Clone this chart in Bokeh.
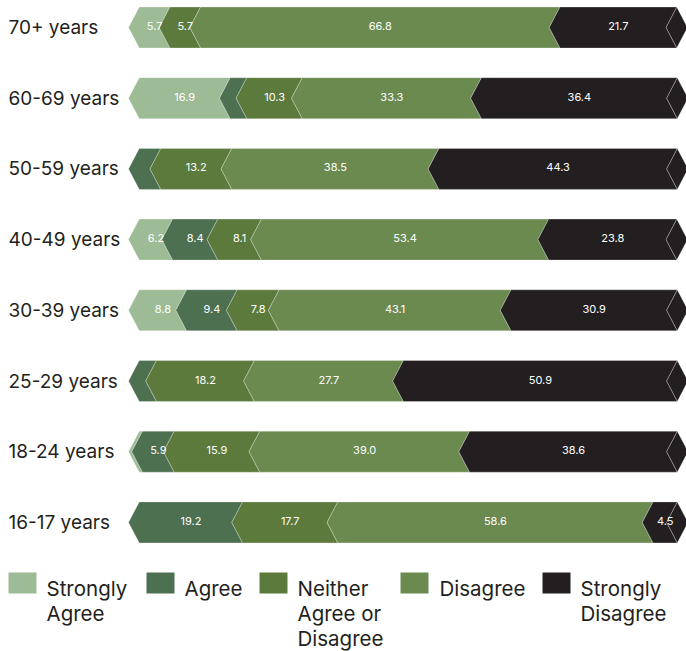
from bokeh.plotting import figure
from bokeh.models import Range1d, ColumnDataSource
from bokeh.embed import file_html
from bokeh.resources import INLINE
from bokeh.core.properties import value

# ---- data ----
categories = ["70+ years", "60-69 years", "50-59 years", "40-49 years",
              "30-39 years", "25-29 years", "18-24 years", "16-17 years"]
series_names = ["Strongly Agree", "Agree", "Neither Agree or Disagree",
                "Disagree", "Strongly Disagree"]
strongly_agree = [5.7, 16.9, 0.0, 6.2, 8.8, 0.0, 0.6, 0.0]
agree = [0.0, 3.1, 4.0, 8.4, 9.4, 3.2, 5.9, 19.2]
neither = [5.7, 10.3, 13.2, 8.1, 7.8, 18.2, 15.9, 17.7]
disagree = [66.8, 33.3, 38.5, 53.4, 43.1, 27.7, 39.0, 58.6]
strongly_disagree = [21.7, 36.4, 44.3, 23.8, 30.9, 50.9, 38.6, 4.5]
legend_lines = [["Strongly", "Agree"], ["Agree"], ["Neither", "Agree or", "Disagree"],
                ["Disagree"], ["Strongly", "Disagree"]]

# ---- style ----
colors = ["#9dbb94", "#4d7050", "#5b7a3c", "#6b8a50", "#231f20"]
TEXT = "#231f20"
FONT = "Inter"

W, H = 686, 651
PX = 5.38      # pixels per percentage point
X0 = 128       # canvas x of 0 %
ROW = 70.7     # pixels between rows
Y0 = 27        # canvas y of first row centre
D = 2.0        # chevron depth (in % units)
HH = 0.29      # half bar height (in row units)
LABEL_MIN = 4.5


def dx(sx):
    return (sx - X0) / PX


def dy(sy):
    return (sy - Y0) / ROW


p = figure(width=W, height=H,
           x_range=Range1d(-X0 / PX, (W - X0) / PX),
           y_range=Range1d((H - Y0) / ROW, -Y0 / ROW),
           output_backend="svg", toolbar_location=None, min_border=0,
           outline_line_color=None, background_fill_color="white",
           border_fill_color="white")
p.xaxis.visible = False
p.yaxis.visible = False
p.xgrid.visible = False
p.ygrid.visible = False

series = [strongly_agree, agree, neither, disagree, strongly_disagree]
seg = dict(xs=[], ys=[], color=[])
cap = dict(xs=[], ys=[], color=[])
lab = dict(x=[], y=[], text=[])
for i, cat in enumerate(categories):
    left = 0.0
    last = None
    for k, vals in enumerate(series):
        v = vals[i]
        if v <= 0:
            continue
        right = left + v
        seg["xs"].append([left, left + D, right + D, right, right + D, left + D])
        seg["ys"].append([i, i - HH, i - HH, i, i + HH, i + HH])
        seg["color"].append(colors[k])
        if v >= LABEL_MIN:
            lab["x"].append((left + right) / 2 + D)
            lab["y"].append(i - 0.02)
            lab["text"].append(f"{v:.1f}")
        left = right
        last = colors[k]
    cap["xs"].append([left, left + D, left + 2 * D, left + D])
    cap["ys"].append([i, i - HH, i, i + HH])
    cap["color"].append(last)

p.patches("xs", "ys", source=ColumnDataSource(cap), fill_color="color",
          line_color="white", line_alpha=0.35, line_width=0.8)
p.patches("xs", "ys", source=ColumnDataSource(seg), fill_color="color",
          line_color="white", line_alpha=0.35, line_width=0.8)
p.text("x", "y", "text", source=ColumnDataSource(lab), text_color="white",
       text_font=value(FONT), text_font_size="11px", text_align="center",
       text_baseline="middle")

# row labels
p.text(x=[dx(8)] * len(categories), y=list(range(len(categories))), text=categories,
       text_color=TEXT, text_font=value(FONT), text_font_size="19px",
       text_align="left", text_baseline="middle")

# legend
sq_x = [8, 146, 259, 400, 542]
tx_x = [46, 184, 297, 439, 580]
p.quad(left=[dx(s) for s in sq_x], right=[dx(s + 28) for s in sq_x],
       top=[dy(572)] * 5, bottom=[dy(593)] * 5, fill_color=colors, line_color=None)
lx, ly, lt = [], [], []
for k, lines in enumerate(legend_lines):
    for j, line in enumerate(lines):
        lx.append(dx(tx_x[k]))
        ly.append(dy(588 + 25 * j))
        lt.append(line)
p.text(x=lx, y=ly, text=lt, text_color=TEXT, text_font=value(FONT),
       text_font_size="20.5px", text_align="left", text_baseline="alphabetic")

open("out.html", "w").write(file_html(p, INLINE))
